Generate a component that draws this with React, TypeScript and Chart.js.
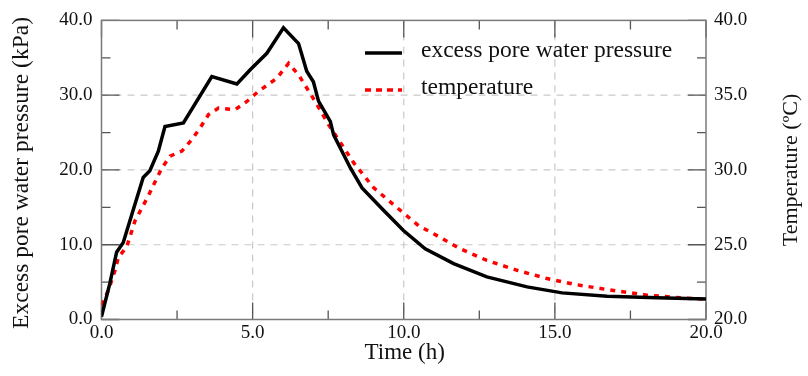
import React, { useEffect, useRef } from "react";
import { Chart, registerables } from "chart.js";

Chart.register(...registerables);

// ---- data ----
const timeP = [0, 0.28, 0.5, 0.72, 1.0, 1.38, 1.6, 1.88, 2.1, 2.71, 3.65, 4.48, 4.92, 5.47, 6.02, 6.52, 6.79, 7.01, 7.18, 7.57, 7.68, 8.23, 8.62, 9.33, 9.99, 10.71, 11.65, 12.75, 14.08, 15.24, 16.73, 18.38, 20];
const pressure = [0.4, 4.9, 9.0, 10.3, 14.0, 19.0, 19.9, 22.5, 25.8, 26.3, 32.5, 31.5, 33.4, 35.6, 39.0, 36.9, 33.2, 31.8, 29.2, 26.5, 24.7, 20.3, 17.6, 14.6, 11.9, 9.46, 7.47, 5.69, 4.36, 3.56, 3.12, 2.9, 2.75];

const timeT = [0, 0.23, 0.45, 0.56, 0.83, 1.11, 1.55, 1.77, 1.99, 2.27, 2.66, 2.99, 3.26, 3.54, 3.87, 4.42, 4.81, 5.19, 5.8, 6.19, 6.52, 7.07, 7.51, 8.34, 9.0, 9.77, 10.49, 10.99, 11.87, 12.75, 13.75, 14.74, 15.62, 16.73, 18.05, 19.15, 20];
const temperature = [20.96, 21.96, 23.3, 24.17, 24.84, 26.6, 28.27, 29.2, 30.1, 30.93, 31.26, 32.04, 32.8, 33.7, 34.14, 34.03, 34.58, 35.25, 36.13, 37.13, 36.36, 34.58, 33.04, 30.49, 28.82, 27.49, 26.28, 25.73, 24.73, 23.95, 23.29, 22.74, 22.36, 22.0, 21.63, 21.45, 21.35];

const xTicks = [0, 5, 10, 15, 20];
const leftTicks = [0, 10, 20, 30, 40];
const rightTicks = [20, 25, 30, 35, 40];

const seriesNames = ["excess pore water pressure", "temperature"];
const xTitle = "Time (h)";
const leftTitle = "Excess pore water pressure (kPa)";
const rightTitle = "Temperature (\u00BAC)";

const FONT = "'Liberation Serif', 'Times New Roman', serif";

const framePlugin = {
  id: "frame",
  beforeDatasetsDraw(chart: any) {
    const { ctx, chartArea: a, scales } = chart;
    const xs = scales.x;
    const ys = scales.y;
    ctx.save();
    // dashed grid
    ctx.strokeStyle = "#c9c9c9";
    ctx.lineWidth = 1.2;
    ctx.setLineDash([7, 6]);
    xTicks.slice(1, -1).forEach((v) => {
      const px = xs.getPixelForValue(v);
      ctx.beginPath();
      ctx.moveTo(px, a.top);
      ctx.lineTo(px, a.bottom);
      ctx.stroke();
    });
    leftTicks.slice(1, -1).forEach((v) => {
      const py = ys.getPixelForValue(v);
      ctx.beginPath();
      ctx.moveTo(a.left, py);
      ctx.lineTo(a.right, py);
      ctx.stroke();
    });
    ctx.setLineDash([]);
    // inward ticks
    ctx.strokeStyle = "#555";
    ctx.lineWidth = 1.3;
    for (let v = 0; v <= 20; v += 2.5) {
      const px = xs.getPixelForValue(v);
      const len = v % 5 === 0 ? 17 : 9;
      ctx.beginPath();
      ctx.moveTo(px, a.bottom);
      ctx.lineTo(px, a.bottom - len);
      ctx.moveTo(px, a.top);
      ctx.lineTo(px, a.top + len);
      ctx.stroke();
    }
    for (let v = 0; v <= 40; v += 5) {
      const py = ys.getPixelForValue(v);
      const len = v % 10 === 0 ? 18 : 9;
      ctx.beginPath();
      ctx.moveTo(a.left, py);
      ctx.lineTo(a.left + len, py);
      ctx.moveTo(a.right, py);
      ctx.lineTo(a.right - len, py);
      ctx.stroke();
    }
    // frame
    ctx.strokeStyle = "#7a7a7a";
    ctx.lineWidth = 1.5;
    ctx.strokeRect(a.left, a.top, a.right - a.left, a.bottom - a.top);
    ctx.restore();
  },
  afterDraw(chart: any) {
    const { ctx, chartArea: a } = chart;
    ctx.save();
    ctx.fillStyle = "#111";
    ctx.textAlign = "center";
    ctx.textBaseline = "middle";
    ctx.font = `23px ${FONT}`;
    ctx.fillText(xTitle, (a.left + a.right) / 2 + 1, 353);
    ctx.save();
    ctx.font = `23.5px ${FONT}`;
    ctx.translate(22, (a.top + a.bottom) / 2 + 3);
    ctx.rotate(-Math.PI / 2);
    ctx.fillText(leftTitle, 0, 0);
    ctx.restore();
    ctx.save();
    ctx.font = `22px ${FONT}`;
    ctx.translate(791, (a.top + a.bottom) / 2);
    ctx.rotate(-Math.PI / 2);
    ctx.fillText(rightTitle, 0, 0);
    ctx.restore();
    // legend
    ctx.font = `23.5px ${FONT}`;
    ctx.textAlign = "left";
    ctx.beginPath();
    ctx.strokeStyle = "#000";
    ctx.lineWidth = 3.5;
    ctx.moveTo(365, 53);
    ctx.lineTo(402, 53);
    ctx.stroke();
    ctx.fillText(seriesNames[0], 421, 51);
    ctx.beginPath();
    ctx.strokeStyle = "#ff0000";
    ctx.setLineDash([6, 5]);
    ctx.moveTo(365, 90);
    ctx.lineTo(402, 90);
    ctx.stroke();
    ctx.setLineDash([]);
    ctx.fillText(seriesNames[1], 421, 88);
    ctx.restore();
  },
};

export default function App() {
  const ref = useRef<HTMLCanvasElement | null>(null);
  useEffect(() => {
    if (!ref.current) return;
    const tickFont = { family: FONT, size: 19 };
    const chart = new Chart(ref.current, {
      type: "line",
      data: {
        datasets: [
          {
            label: seriesNames[0],
            data: timeP.map((t, i) => ({ x: t, y: pressure[i] })),
            borderColor: "#000",
            borderWidth: 3.5,
            pointRadius: 0,
            tension: 0,
            yAxisID: "y",
          },
          {
            label: seriesNames[1],
            data: timeT.map((t, i) => ({ x: t, y: temperature[i] })),
            borderColor: "#ff0000",
            borderWidth: 3.5,
            borderDash: [5, 6],
            pointRadius: 0,
            tension: 0,
            yAxisID: "y1",
          },
        ],
      },
      options: {
        responsive: false,
        animation: false,
        layout: { padding: { top: 18.5, left: 0, right: 0, bottom: 0 } },
        plugins: { legend: { display: false }, tooltip: { enabled: false } },
        scales: {
          x: {
            type: "linear",
            min: 0,
            max: 20,
            afterBuildTicks: (s: any) => {
              s.ticks = xTicks.map((v) => ({ value: v }));
            },
            ticks: { callback: (v: any) => Number(v).toFixed(1), font: tickFont, color: "#111", padding: 2, maxRotation: 0 },
            grid: { display: false, drawTicks: false },
            border: { display: false },
            afterFit: (s: any) => {
              s.height = 56.5;
            },
          },
          y: {
            type: "linear",
            position: "left",
            min: 0,
            max: 40,
            afterBuildTicks: (s: any) => {
              s.ticks = leftTicks.map((v) => ({ value: v }));
            },
            ticks: { callback: (v: any) => Number(v).toFixed(1), font: tickFont, color: "#111", padding: 9 },
            grid: { display: false, drawTicks: false },
            border: { display: false },
            afterFit: (s: any) => {
              s.width = 101.5;
            },
          },
          y1: {
            type: "linear",
            position: "right",
            min: 20,
            max: 40,
            afterBuildTicks: (s: any) => {
              s.ticks = rightTicks.map((v) => ({ value: v }));
            },
            ticks: { callback: (v: any) => Number(v).toFixed(1), font: tickFont, color: "#111", padding: 8 },
            grid: { display: false, drawTicks: false },
            border: { display: false },
            afterFit: (s: any) => {
              s.width = 102;
            },
          },
        },
      },
      plugins: [framePlugin],
    } as any);
    return () => chart.destroy();
  }, []);
  return (
    <div style={{ position: "fixed", left: 0, top: 0, width: 808, height: 376, background: "#fff" }}>
      <canvas ref={ref} width={808} height={376} style={{ display: "block" }} />
    </div>
  );
}
